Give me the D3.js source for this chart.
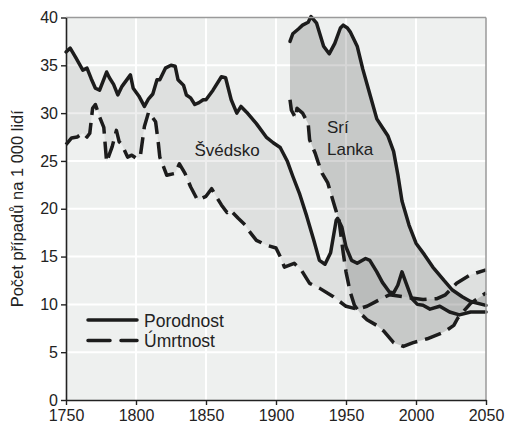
<!DOCTYPE html>
<html>
<head>
<meta charset="utf-8">
<script src="https://cdn.jsdelivr.net/npm/d3@7"></script>
<style>
body { margin: 0; background: #fff; }
text { font-family: "Liberation Sans", Arial, sans-serif; }
</style>
</head>
<body>
<script>
// data (per 1000 people)
var swBirthYears = [1750,1753,1757,1762,1765,1768,1771,1774,1779,1781,1784,1787,1790,1796,1798,1802,1806,1809,1812,1815,1817,1821,1825,1828,1830,1834,1836,1839,1842,1845,1848,1850,1855,1861,1864,1868,1872,1875,1879,1886,1893,1898,1903,1908,1912,1917,1922,1927,1931,1935,1939,1943,1944,1947,1950,1954,1958,1964,1967,1972,1976,1981,1984,1987,1990,1993,1997,2001,2005,2010,2017,2024,2031,2039,2050];
var swBirth = [36.4,36.8,35.8,34.5,34.7,33.6,32.6,32.4,34.3,33.7,33.0,31.9,32.8,34.0,32.6,31.8,30.7,31.5,32.0,33.5,33.5,34.7,35.0,34.9,33.5,32.9,31.9,31.6,30.9,31.1,31.4,31.4,32.4,33.8,33.7,31.4,30.0,30.7,30.1,28.9,27.5,26.9,26.4,25.0,23.4,21.5,19.2,16.7,14.6,14.2,15.4,18.8,19.0,18.1,16.0,14.6,14.3,14.8,14.6,13.4,12.3,11.3,11.2,12.0,13.4,12.2,10.6,10.0,9.9,9.5,9.8,9.2,8.9,9.2,9.2];

var swDeathYears = [1750,1754,1758,1762,1765,1767,1769,1771,1774,1777,1779,1783,1786,1788,1790,1794,1797,1800,1803,1806,1809,1812,1814,1816,1817,1822,1828,1831,1835,1839,1844,1850,1854,1856,1861,1865,1867,1873,1878,1880,1886,1893,1900,1903,1906,1913,1918,1924,1931,1941,1950,1958,1965,1974,1981,1991,2005,2015,2021,2029,2039,2050];
var swDeath = [26.7,27.4,27.5,27.9,27.5,27.9,30.5,30.9,29.6,28.5,24.9,26.5,28.2,27.0,26.7,25.4,25.6,25.3,25.4,28.6,30.1,29.5,29.1,26.8,25.4,23.5,23.7,24.7,23.7,22.3,20.9,21.3,22.1,21.6,20.4,19.6,19.9,19.0,18.3,17.8,16.7,16.2,15.9,15.0,13.9,14.3,13.6,12.2,11.7,10.8,9.8,9.5,9.8,10.5,11.0,10.8,10.5,10.6,11.0,12.2,13.1,13.6];

var slBirthYears = [1910,1912,1916,1919,1923,1925,1929,1934,1938,1942,1946,1948,1951,1953,1958,1962,1967,1972,1976,1980,1984,1987,1990,1995,2000,2006,2012,2020,2026,2033,2039,2050];
var slBirth = [37.5,38.3,38.8,39.2,39.5,40.1,39.4,37.0,36.2,37.3,38.9,39.2,38.9,38.5,37.0,34.6,32.0,29.4,28.5,27.6,26.0,23.6,20.8,18.3,16.4,15.2,13.9,12.5,11.5,10.8,10.3,9.9];

var slDeathYears = [1910,1911,1914,1915,1919,1923,1924,1928,1930,1933,1937,1942,1945,1948,1950,1953,1956,1960,1965,1972,1977,1984,1991,1998,2008,2020,2027,2030,2039,2050];
var slDeath = [31.4,30.3,29.5,30.5,30.0,28.9,27.2,25.8,24.9,23.7,22.7,20.2,18.8,15.4,13.4,11.3,9.9,9.1,8.4,7.8,7.2,6.0,5.6,6.0,6.4,7.1,7.8,8.6,10.1,11.2];

var xTicks = [1750,1800,1850,1900,1950,2000,2050];
var yTicks = [0,5,10,15,20,25,30,35,40];

function pts(years, vals) {
    return years.map(function(yr, i) { return {year: yr, v: vals[i]}; });
}

var width = 507, height = 433;
var plotL = 66, plotR = 486, plotT = 17.5, plotB = 400;

var svg = d3.select('body').append('svg')
            .attr('width', width).attr('height', height);

var x = d3.scaleLinear().domain([1750, 2050]).range([plotL, plotR]);
var y = d3.scaleLinear().domain([0, 40]).range([plotB, plotT]);

svg.append('rect')
   .attr('x', plotL).attr('y', plotT)
   .attr('width', plotR - plotL).attr('height', plotB - plotT)
   .attr('fill', '#eef0ef');

// grid
svg.selectAll('.vg').data(xTicks.slice(1, -1)).enter().append('line')
   .attr('x1', function(d) { return x(d); }).attr('x2', function(d) { return x(d); })
   .attr('y1', plotT).attr('y2', plotB)
   .attr('stroke', '#fff').attr('stroke-width', 2);
svg.selectAll('.hg').data(yTicks.slice(1, -1)).enter().append('line')
   .attr('y1', function(d) { return y(d); }).attr('y2', function(d) { return y(d); })
   .attr('x1', plotL).attr('x2', plotR)
   .attr('stroke', '#fff').attr('stroke-width', 2);

var line = d3.line().x(function(d) { return x(d.year); }).y(function(d) { return y(d.v); });

function band(b, d, op) {
    var poly = b.concat(d.slice().reverse());
    svg.append('path')
       .attr('d', line(poly) + 'Z')
       .attr('fill', '#000').attr('fill-opacity', op);
}

var swB = pts(swBirthYears, swBirth), swD = pts(swDeathYears, swDeath);
var slB = pts(slBirthYears, slBirth), slD = pts(slDeathYears, slDeath);

band(swB, swD, 0.068);
band(slB, slD, 0.16);

function drawLine(data, dashed) {
    svg.append('path')
       .attr('d', line(data))
       .attr('fill', 'none')
       .attr('stroke', '#1c1c1c')
       .attr('stroke-width', 3.5)
       .attr('stroke-linejoin', 'round')
       .attr('stroke-linecap', dashed ? 'butt' : 'round')
       .attr('stroke-dasharray', dashed ? '17,8' : null);
}
drawLine(swB, false);
drawLine(swD, true);
drawLine(slB, false);
drawLine(slD, true);

// frame
svg.append('line').attr('x1', plotL).attr('x2', plotR).attr('y1', plotT).attr('y2', plotT)
   .attr('stroke', '#9a9a9a').attr('stroke-width', 1.5);
svg.append('line').attr('x1', plotR).attr('x2', plotR).attr('y1', plotT).attr('y2', plotB)
   .attr('stroke', '#9a9a9a').attr('stroke-width', 1.5);

var xAxis = svg.append('g').attr('transform', 'translate(0,' + plotB + ')')
   .call(d3.axisBottom(x).tickValues(xTicks).tickFormat(d3.format('d')).tickSize(5).tickSizeOuter(0));
var yAxis = svg.append('g').attr('transform', 'translate(' + plotL + ',0)')
   .call(d3.axisLeft(y).tickValues(yTicks).tickSize(5).tickSizeOuter(0));

[xAxis, yAxis].forEach(function(g) {
    g.select('.domain').attr('stroke', '#222').attr('stroke-width', 1.6);
    g.selectAll('.tick line').attr('stroke', '#222').attr('stroke-width', 1.4);
    g.selectAll('.tick text').attr('fill', '#222').style('font-size', '16px')
     .style('font-family', '"Liberation Sans", Arial, sans-serif');
});
xAxis.selectAll('.tick text').attr('y', 10);
yAxis.selectAll('.tick text').attr('x', -8);

svg.append('text')
   .attr('transform', 'translate(23,' + (plotT + plotB) / 2 + ') rotate(-90)')
   .attr('text-anchor', 'middle')
   .attr('fill', '#222').style('font-size', '16.5px')
   .text('Počet případů na 1 000 lidí');

svg.append('text').attr('x', 227).attr('y', 156).attr('text-anchor', 'middle')
   .attr('fill', '#222').style('font-size', '17px').text('Švédsko');
svg.append('text').attr('x', 327).attr('y', 133)
   .attr('fill', '#222').style('font-size', '17px').text('Srí');
svg.append('text').attr('x', 327).attr('y', 155)
   .attr('fill', '#222').style('font-size', '17px').text('Lanka');

// legend
var legend = [{name: 'Porodnost', dashed: false}, {name: 'Úmrtnost', dashed: true}];
var lg = svg.selectAll('.lg').data(legend).enter().append('g')
   .attr('transform', function(d, i) { return 'translate(88,' + (320 + i * 20.5) + ')'; });
lg.append('line').attr('x1', 0).attr('x2', 49)
   .attr('stroke', '#1c1c1c').attr('stroke-width', 3.5)
   .attr('stroke-linecap', 'round')
   .attr('stroke-dasharray', function(d) { return d.dashed ? '22,11' : null; });
lg.append('text').attr('x', 56).attr('y', 6.5)
   .attr('fill', '#222').style('font-size', '17.5px')
   .text(function(d) { return d.name; });
</script>
</body>
</html>
